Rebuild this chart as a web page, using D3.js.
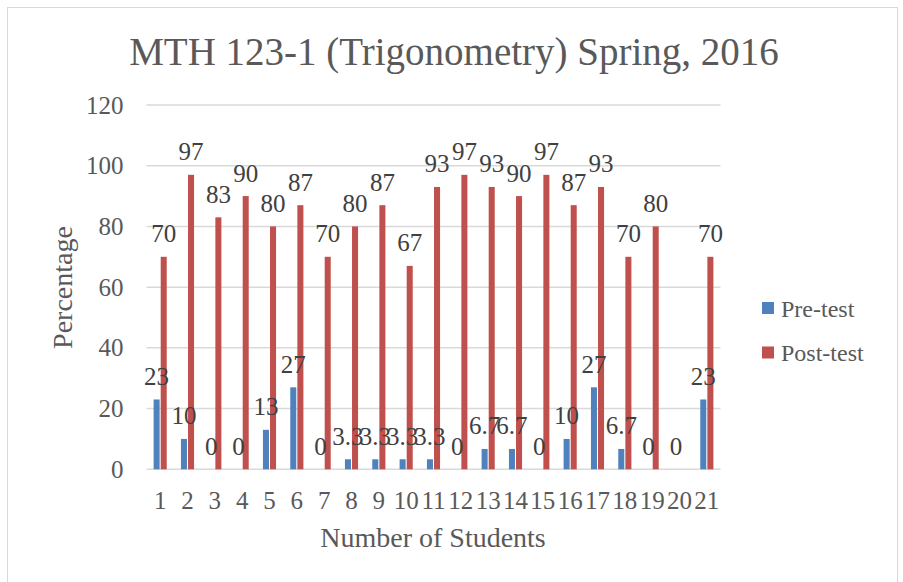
<!DOCTYPE html>
<html>
<head>
<meta charset="utf-8">
<script src="https://cdn.jsdelivr.net/npm/d3@7"></script>
<style>
  body { margin: 0; background: #fff; }
  text { font-family: "Liberation Serif", serif; }
</style>
</head>
<body>
<div id="chart"></div>
<script>
// chart data ---------------------------------
var students = ['1','2','3','4','5','6','7','8','9','10','11','12','13','14','15','16','17','18','19','20','21'];
var preTest  = [23, 10, 0, 0, 13, 27, 0, 3.3, 3.3, 3.3, 3.3, 0, 6.7, 6.7, 0, 10, 27, 6.7, 0, 0, 23];
var postTest = [70, 97, 83, 90, 80, 87, 70, 80, 87, 67, 93, 97, 93, 90, 97, 87, 93, 70, 80, null, 70];
var seriesNames = ['Pre-test', 'Post-test'];
var yTicks = [0, 20, 40, 60, 80, 100, 120];
var titleText = 'MTH 123-1 (Trigonometry) Spring, 2016';
// end data -----------------------------------

var colors = {'Pre-test': '#4F81BD', 'Post-test': '#C0504D'};
var W = 903, H = 582;
var plot = {left: 146.5, right: 720.5, top: 105, bottom: 469.3};

var svg = d3.select('#chart').append('svg')
    .attr('width', W)
    .attr('height', H);

// outer chart border
svg.append('rect')
    .attr('x', 7.5).attr('y', 7.5)
    .attr('width', 890).attr('height', 620)
    .attr('fill', '#fff')
    .attr('stroke', '#D9D9D9');

var x0 = d3.scaleBand().domain(students)
    .range([plot.left, plot.right])
    .paddingInner(0.52).paddingOuter(0.26);
var x1 = d3.scaleBand().domain(seriesNames)
    .range([0, x0.bandwidth()])
    .paddingInner(0.15);
var y = d3.scaleLinear().domain([0, 120]).range([plot.bottom, plot.top]);

// gridlines
svg.append('g').selectAll('line')
    .data(yTicks)
    .enter().append('line')
    .attr('x1', plot.left).attr('x2', plot.right)
    .attr('y1', function(d){ return y(d); })
    .attr('y2', function(d){ return y(d); })
    .attr('stroke', '#D9D9D9')
    .attr('stroke-width', 1.5);

// y axis labels
var yAxis = d3.axisLeft(y).tickValues(yTicks).tickSize(0).tickPadding(23);
var gy = svg.append('g')
    .attr('transform', 'translate(' + plot.left + ',0)')
    .call(yAxis);
gy.select('.domain').remove();
gy.selectAll('text')
    .style('font-family', '"Liberation Serif", serif')
    .style('font-size', '25px')
    .attr('fill', '#595959');

// x axis labels
var xAxis = d3.axisBottom(x0).tickSize(0).tickPadding(22);
var gx = svg.append('g')
    .attr('transform', 'translate(0,' + plot.bottom + ')')
    .call(xAxis);
gx.select('.domain').remove();
gx.selectAll('text')
    .style('font-family', '"Liberation Serif", serif')
    .style('font-size', '25px')
    .attr('fill', '#595959');

// flatten into one list of bars
var bars = [];
students.forEach(function(s, i){
    if (preTest[i] !== null) bars.push({student: s, series: 'Pre-test', value: preTest[i]});
    if (postTest[i] !== null) bars.push({student: s, series: 'Post-test', value: postTest[i]});
});
var barX = function(d){ return x0(d.student) + x1(d.series); };

svg.append('g').selectAll('rect')
    .data(bars)
    .enter().append('rect')
    .attr('x', barX)
    .attr('width', x1.bandwidth())
    .attr('y', function(d){ return y(d.value); })
    .attr('height', function(d){ return y(0) - y(d.value); })
    .attr('fill', function(d){ return colors[d.series]; });

// data labels, on top of every bar
svg.append('g').selectAll('text')
    .data(bars)
    .enter().append('text')
    .attr('x', function(d){ return barX(d) + x1.bandwidth() / 2; })
    .attr('y', function(d){ return y(d.value) - 14.5; })
    .attr('text-anchor', 'middle')
    .style('font-size', '25px')
    .attr('fill', '#404040')
    .text(function(d){ return d.value; });

// title
svg.append('text')
    .attr('x', 454).attr('y', 65)
    .attr('text-anchor', 'middle')
    .style('font-size', '39px')
    .attr('fill', '#595959')
    .text(titleText);

// axis titles
svg.append('text')
    .attr('x', 433).attr('y', 546.5)
    .attr('text-anchor', 'middle')
    .style('font-size', '28px')
    .attr('fill', '#595959')
    .text('Number of Students');

svg.append('text')
    .attr('transform', 'translate(72,287.5) rotate(-90)')
    .attr('text-anchor', 'middle')
    .style('font-size', '28px')
    .attr('fill', '#595959')
    .text('Percentage');

// legend
var legend = svg.append('g').selectAll('g')
    .data(seriesNames)
    .enter().append('g')
    .attr('transform', function(d, i){ return 'translate(762,' + (302 + i * 44.5) + ')'; });

legend.append('rect')
    .attr('width', 12).attr('height', 12)
    .attr('fill', function(d){ return colors[d]; });

legend.append('text')
    .attr('x', 19).attr('y', 14.5)
    .style('font-size', '24px')
    .attr('fill', '#595959')
    .text(function(d){ return d; });
</script>
</body>
</html>
